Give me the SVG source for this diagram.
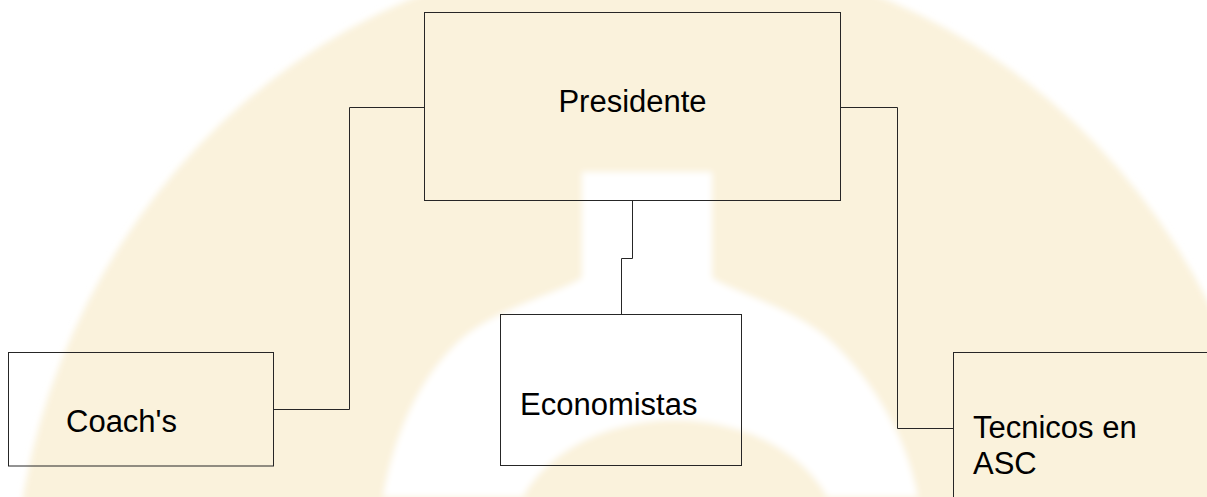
<svg xmlns="http://www.w3.org/2000/svg" width="1207" height="497" viewBox="0 0 1207 497">
  <defs>
    <filter id="soft" x="-10%" y="-10%" width="120%" height="120%">
      <feGaussianBlur stdDeviation="3"/>
    </filter>
    <style>
      .box { fill: none; stroke: #262626; stroke-width: 1; }
      .lbl { font-family: "Liberation Sans", Arial, sans-serif; font-size: 31px; fill: #000; }
      .conn { fill: none; stroke: #262626; stroke-width: 1; }
    </style>
  </defs>
  <rect x="0" y="0" width="1207" height="497" fill="#ffffff"/>
  <g id="watermark" filter="url(#soft)">
    <ellipse cx="648" cy="614" rx="635" ry="663" fill="#FAF2DC"/>
    <path d="M 582 172 H 712 V 278 C 740 295 800 310 835 345 C 870 380 905 430 918 497 H 383 C 395 430 420 380 455 345 C 490 310 555 295 582 278 Z" fill="#ffffff"/>
    <ellipse cx="675" cy="545" rx="165" ry="125" fill="#FAF2DC"/>
  </g>
  <g id="connectors">
    <path class="conn" d="M 273 409.5 H 349.5 V 107.5 H 425"/>
    <path class="conn" d="M 841 107.5 H 897.5 V 428.5 H 953"/>
    <path class="conn" d="M 632.5 201 V 258.5 H 621.5 V 315"/>
  </g>
  <g id="presidente">
    <rect class="box" x="424.5" y="12.5" width="416" height="188"/>
    <text class="lbl" x="632.5" y="112" text-anchor="middle">Presidente</text>
  </g>
  <g id="coachs">
    <rect class="box" x="8.5" y="352.5" width="265" height="113.5"/>
    <text class="lbl" x="66" y="432">Coach's</text>
  </g>
  <g id="economistas">
    <rect class="box" x="500.5" y="314.5" width="241" height="151"/>
    <text class="lbl" x="520" y="415">Economistas</text>
  </g>
  <g id="tecnicos">
    <rect class="box" x="953.5" y="352.5" width="300" height="200"/>
    <text class="lbl" x="973" y="438">Tecnicos en</text>
    <text class="lbl" x="973" y="474">ASC</text>
  </g>
</svg>
